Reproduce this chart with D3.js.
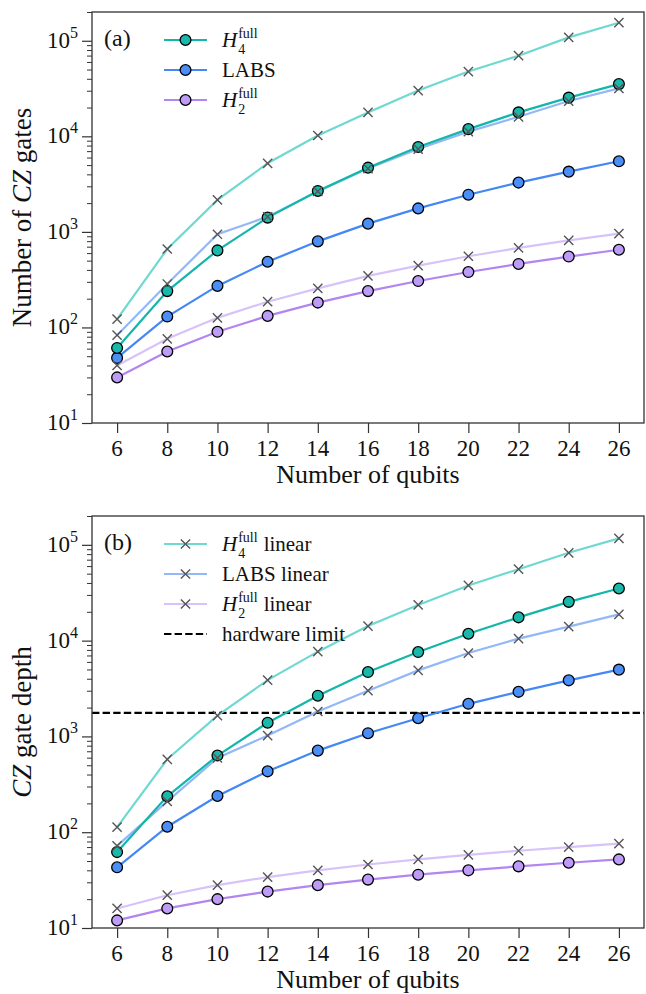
<!DOCTYPE html>
<html>
<head>
<meta charset="utf-8">
<script src="https://d3js.org/d3.v7.min.js"></script>
<style>
body {margin:0; background:#fff;}
svg text {font-family: "Liberation Serif", "DejaVu Serif", serif; fill:#111;}
</style>
</head>
<body>
<svg id="fig" width="646" height="994"></svg>
<script>
// x values (number of qubits)
var qubits = [6, 8, 10, 12, 14, 16, 18, 20, 22, 24, 26];

// panel (a): number of CZ gates
var czH4 = [61, 240, 640, 1410, 2680, 4700, 7730, 11900, 17800, 25400, 35200];
var czLabs = [48, 130, 272, 487, 796, 1220, 1760, 2450, 3280, 4270, 5480];
var czH2 = [30, 56, 90, 132, 182, 240, 306, 380, 462, 552, 650];
var czH4Lin = [122, 662, 2160, 5220, 10200, 17800, 30100, 47600, 69800, 108600, 154600];
var czLabsLin = [83, 285, 944, 1440, 2650, 4600, 7360, 11200, 16000, 23400, 31800];
var czH2Lin = [40, 76, 126, 186, 256, 346, 444, 556, 680, 816, 960];

// panel (b): CZ gate depth
var dH4 = [62, 237, 631, 1390, 2660, 4700, 7600, 11800, 17500, 25400, 35000];
var dLabs = [43, 114, 239, 432, 711, 1080, 1550, 2190, 2920, 3850, 4980];
var dH2 = [12, 16, 20, 24, 28, 32, 36, 40, 44, 48, 52];
var dH4Lin = [113, 577, 1650, 3870, 7670, 14200, 23600, 37700, 55700, 82600, 116700];
var dLabsLin = [72, 210, 597, 1020, 1820, 3000, 4890, 7420, 10500, 14000, 18800];
var dH2Lin = [16, 22, 28, 34, 40, 46, 52, 58, 64, 70, 76];
var hardwareLimit = 1760;

var yExponents = [1, 2, 3, 4, 5];

var colH4 = "#14b6a9", colLabs = "#4388f5", colH2 = "#b285f1";
var colH4Lin = "#6fd9d1", colLabsLin = "#92b8f8", colH2Lin = "#d8c2fa";
var fillH4 = "#1ab8ab", fillLabs = "#4a8ef6", fillH2 = "#bd9cf7";

var svg = d3.select("#fig");
var x = d3.scaleLinear().domain([5, 27]).range([92, 644]);

// italic H with stacked "full" superscript and digit subscript
function hLabel(g, x0, y0, sub, tail) {
  var t = g.append("text").attr("x", x0).attr("y", y0)
    .style("font-size", "21px").style("font-style", "italic").text("H");
  var xs = x0 + t.node().getComputedTextLength() + 1;
  var sup = g.append("text").attr("x", xs).attr("y", y0 - 9.5)
    .style("font-size", "14px").text("full");
  g.append("text").attr("x", xs).attr("y", y0 + 6.5).style("font-size", "14px").text(sub);
  if (tail) {
    g.append("text").attr("x", xs + sup.node().getComputedTextLength() + 6).attr("y", y0)
      .style("font-size", "21px").text(tail);
  }
}

function drawPanel(top, bottom, lin, full, tag, ylabel, hw) {
  var y = d3.scaleLog().domain([10, 2e5]).range([bottom, top]);
  var g = svg.append("g");

  // minor + major ticks on y
  var minors = [];
  yExponents.slice(0, 4).forEach(function(e) {
    for (var k = 2; k <= 9; k++) minors.push(k * Math.pow(10, e));
  });
  minors.push(2e5);
  g.append("g").attr("transform", "translate(92,0)")
    .call(d3.axisLeft(y).tickValues(minors).tickSize(5).tickFormat(""))
    .call(function(a) { a.select(".domain").remove(); a.selectAll("line").attr("stroke", "#333").attr("stroke-width", 1); });
  g.append("g").attr("transform", "translate(92,0)")
    .call(d3.axisLeft(y).tickValues(yExponents.map(function(e) { return Math.pow(10, e); })).tickSize(10).tickFormat(""))
    .call(function(a) { a.select(".domain").remove(); a.selectAll("line").attr("stroke", "#333").attr("stroke-width", 1.2); });
  g.append("g").attr("transform", "translate(0," + bottom + ")")
    .call(d3.axisBottom(x).tickValues(qubits).tickSize(10).tickFormat(""))
    .call(function(a) { a.select(".domain").remove(); a.selectAll("line").attr("stroke", "#333").attr("stroke-width", 1.2); });

  yExponents.forEach(function(e) {
    var lab = g.append("text").attr("x", 78).attr("y", y(Math.pow(10, e)) + 7)
      .attr("text-anchor", "end").style("font-size", "23px");
    lab.append("tspan").text("10");
    lab.append("tspan").attr("dy", -10).style("font-size", "16px").text(e);
  });
  qubits.forEach(function(q) {
    g.append("text").attr("x", x(q)).attr("y", bottom + 33).attr("text-anchor", "middle")
      .style("font-size", "23px").text(q);
  });
  g.append("text").attr("x", (92 + 644) / 2).attr("y", bottom + 60).attr("text-anchor", "middle")
    .style("font-size", "26px").text("Number of qubits");

  var yl = g.append("text").attr("transform", "translate(31," + ((top + bottom) / 2) + ") rotate(-90)")
    .attr("text-anchor", "middle").style("font-size", "27px");
  ylabel(yl);

  if (hw) {
    g.append("line").attr("x1", 92).attr("x2", 644).attr("y1", y(hw)).attr("y2", y(hw))
      .attr("stroke", "#000").attr("stroke-width", 2.2).attr("stroke-dasharray", "7.4,3.2");
  }

  var line = d3.line().x(function(d, i) { return x(qubits[i]); }).y(function(d) { return y(d); });
  lin.forEach(function(s) {
    g.append("path").datum(s.v).attr("d", line).attr("fill", "none")
      .attr("stroke", s.c).attr("stroke-width", 2.2);
  });
  full.forEach(function(s) {
    g.append("path").datum(s.v).attr("d", line).attr("fill", "none")
      .attr("stroke", s.c).attr("stroke-width", 2.2);
  });
  full.forEach(function(s) {
    g.selectAll(null).data(s.v).enter().append("circle")
      .attr("cx", function(d, i) { return x(qubits[i]); }).attr("cy", function(d) { return y(d); })
      .attr("r", 5.4).attr("fill", s.f).attr("stroke", "#000").attr("stroke-width", 1.3);
  });
  lin.forEach(function(s) {
    g.selectAll(null).data(s.v).enter().append("path")
      .attr("transform", function(d, i) { return "translate(" + x(qubits[i]) + "," + y(d) + ")"; })
      .attr("d", "M-4.6,-4.6L4.6,4.6M-4.6,4.6L4.6,-4.6")
      .attr("stroke", "#555").attr("stroke-width", 1.4).attr("fill", "none");
  });

  g.append("rect").attr("x", 92).attr("y", top).attr("width", 644 - 92).attr("height", bottom - top)
    .attr("fill", "none").attr("stroke", "#333").attr("stroke-width", 1.3);

  g.append("text").attr("x", 104).attr("y", top + 34).style("font-size", "24px").text(tag);
  return g;
}

// panel (a)
var ga = drawPanel(12, 423,
  [{v: czH4Lin, c: colH4Lin}, {v: czLabsLin, c: colLabsLin}, {v: czH2Lin, c: colH2Lin}],
  [{v: czH2, c: colH2, f: fillH2}, {v: czLabs, c: colLabs, f: fillLabs}, {v: czH4, c: colH4, f: fillH4}],
  "(a)",
  function(t) {
    t.append("tspan").text("Number of ");
    t.append("tspan").style("font-style", "italic").text("CZ");
    t.append("tspan").text(" gates");
  }, null);

var legA = [{c: colH4, f: fillH4, sub: "4"}, {c: colLabs, f: fillLabs, name: "LABS"}, {c: colH2, f: fillH2, sub: "2"}];
legA.forEach(function(d, i) {
  var yy = 40 + i * 30;
  ga.append("line").attr("x1", 164).attr("x2", 207).attr("y1", yy).attr("y2", yy)
    .attr("stroke", d.c).attr("stroke-width", 2.2);
  ga.append("circle").attr("cx", 185.5).attr("cy", yy).attr("r", 5.4)
    .attr("fill", d.f).attr("stroke", "#000").attr("stroke-width", 1.3);
  if (d.name) ga.append("text").attr("x", 222).attr("y", yy + 7).style("font-size", "21px").text(d.name);
  else hLabel(ga, 222, yy + 7, d.sub, null);
});

// panel (b)
var gb = drawPanel(516, 928,
  [{v: dH4Lin, c: colH4Lin}, {v: dLabsLin, c: colLabsLin}, {v: dH2Lin, c: colH2Lin}],
  [{v: dH2, c: colH2, f: fillH2}, {v: dLabs, c: colLabs, f: fillLabs}, {v: dH4, c: colH4, f: fillH4}],
  "(b)",
  function(t) {
    t.append("tspan").style("font-style", "italic").text("CZ");
    t.append("tspan").text(" gate depth");
  }, hardwareLimit);

var legB = [{c: colH4Lin, sub: "4"}, {c: colLabsLin, name: "LABS linear"}, {c: colH2Lin, sub: "2"}];
legB.forEach(function(d, i) {
  var yy = 544 + i * 30;
  gb.append("line").attr("x1", 164).attr("x2", 207).attr("y1", yy).attr("y2", yy)
    .attr("stroke", d.c).attr("stroke-width", 2.2);
  gb.append("path").attr("transform", "translate(185.5," + yy + ")")
    .attr("d", "M-4.6,-4.6L4.6,4.6M-4.6,4.6L4.6,-4.6")
    .attr("stroke", "#555").attr("stroke-width", 1.4);
  if (d.name) gb.append("text").attr("x", 222).attr("y", yy + 7).style("font-size", "21px").text(d.name);
  else hLabel(gb, 222, yy + 7, d.sub, "linear");
});
gb.append("line").attr("x1", 164).attr("x2", 207).attr("y1", 634).attr("y2", 634)
  .attr("stroke", "#000").attr("stroke-width", 2.2).attr("stroke-dasharray", "7.4,3.2");
gb.append("text").attr("x", 222).attr("y", 641).style("font-size", "21px").text("hardware limit");
</script>
</body>
</html>
